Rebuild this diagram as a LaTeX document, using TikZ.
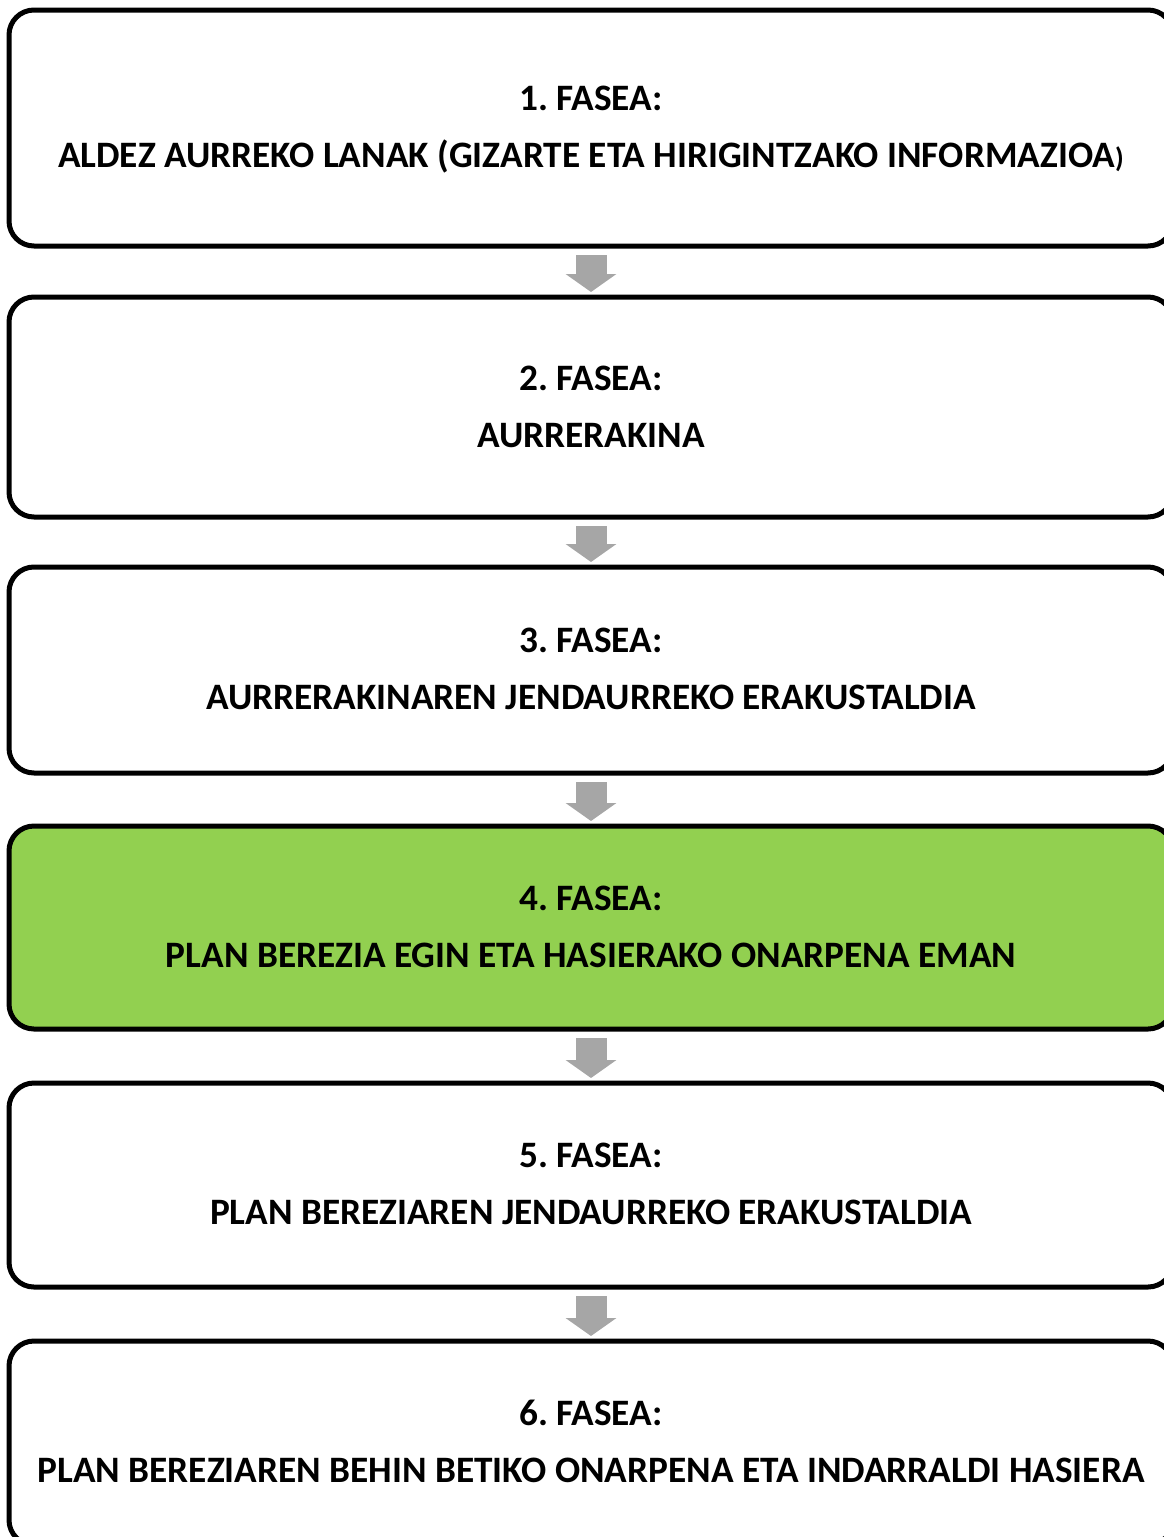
\documentclass[tikz,border=0pt]{standalone}
\usepackage{fontspec}
\setmainfont{Carlito}
\usetikzlibrary{arrows.meta}
\definecolor{phasegreen}{HTML}{92D050}
\definecolor{arrowgray}{HTML}{A6A6A6}
\frenchspacing
\tikzset{
  phasebox/.style={draw=black, line width=5pt, rounded corners=25pt, minimum width=1164pt, outer sep=0pt, inner sep=0pt, fill=white},
  phasetxt/.style={anchor=base, inner sep=0pt, font=\fontsize{37.3}{44}\selectfont\bfseries},
  flowarrow/.style={draw=arrowgray, line width=31pt, -{Triangle[width=50pt,length=18pt]}, arrowgray},
}
\begin{document}
\begin{tikzpicture}[x=1pt,y=-1pt]
\useasboundingbox (0,0) rectangle (1164,1537);
\node[phasebox, minimum height=236pt] (b1) at (591,128) {};
\node[phasebox, minimum height=220pt] (b2) at (591,407) {};
\node[phasebox, minimum height=206pt] (b3) at (591,670) {};
\node[phasebox, minimum height=203pt, fill=phasegreen] (b4) at (591,927.5) {};
\node[phasebox, minimum height=204pt] (b5) at (591,1185) {};
\node[phasebox, minimum height=204pt] (b6) at (591,1443) {};

\node[phasetxt] (t1a) at (591,110) {1. FASEA:};
\node[phasetxt] (t1b) at (591,167) {ALDEZ AURREKO LANAK (GIZARTE ETA HIRIGINTZAKO INFORMAZIOA{\fontsize{28}{32}\selectfont )}};
\node[phasetxt] (t2a) at (591,390) {2. FASEA:};
\node[phasetxt] (t2b) at (591,447) {AURRERAKINA};
\node[phasetxt] (t3a) at (591,652) {3. FASEA:};
\node[phasetxt] (t3b) at (591,709) {AURRERAKINAREN JENDAURREKO ERAKUSTALDIA};
\node[phasetxt] (t4a) at (591,910) {4. FASEA:};
\node[phasetxt] (t4b) at (591,967) {PLAN BEREZIA EGIN ETA HASIERAKO ONARPENA EMAN};
\node[phasetxt] (t5a) at (591,1167) {5. FASEA:};
\node[phasetxt] (t5b) at (591,1224) {PLAN BEREZIAREN JENDAURREKO ERAKUSTALDIA};
\node[phasetxt] (t6a) at (591,1425) {6. FASEA:};
\node[phasetxt] (t6b) at (591,1482) {PLAN BEREZIAREN BEHIN BETIKO ONARPENA ETA INDARRALDI HASIERA};

\draw[flowarrow] ([yshift=-9pt]b1.south) -- ([yshift=5pt]b2.north);
\draw[flowarrow] ([yshift=-9pt]b2.south) -- ([yshift=5pt]b3.north);
\draw[flowarrow] ([yshift=-9pt]b3.south) -- ([yshift=5pt]b4.north);
\draw[flowarrow] ([yshift=-9pt]b4.south) -- ([yshift=5pt]b5.north);
\draw[flowarrow] ([yshift=-9pt]b5.south) -- ([yshift=5pt]b6.north);
\end{tikzpicture}
\end{document}
